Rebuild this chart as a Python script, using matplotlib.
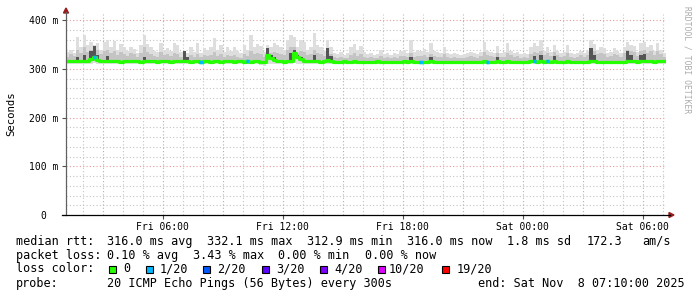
import numpy as np
import pandas as pd
import matplotlib
matplotlib.use("Agg")
import matplotlib.pyplot as plt
import matplotlib.dates as mdates
from matplotlib.patches import Rectangle, Polygon
from matplotlib.lines import Line2D

# ---------------- data ----------------
start = "2025-11-07 01:10"
n_steps = 180
step = "10min"

top = [335,340,333,366,345,369,350,355,349,353,
       340,355,359,345,357,340,352,345,338,345,
       342,333,350,369,352,345,338,335,353,340,
       343,338,353,350,335,338,333,345,335,353,
       333,343,340,345,363,340,350,335,345,338,
       345,338,332,350,340,369,345,352,348,335,
       349,345,353,350,345,340,360,369,365,345,
       359,355,340,345,373,350,345,338,360,345,
       333,330,334,328,332,345,352,340,348,335,
       330,332,328,330,340,330,333,328,332,330,
       338,340,332,359,335,340,338,342,335,353,
       338,335,332,345,333,330,332,330,328,330,
       332,335,333,330,335,355,338,335,333,347,
       332,335,353,338,333,335,330,333,330,345,
       353,348,359,338,345,335,350,338,332,335,
       349,333,330,332,338,333,338,359,352,340,
       345,343,332,335,343,338,333,345,355,350,
       348,335,353,355,345,350,338,353,340,333]

mid = [325,330,326,340,332,345,335,340,338,340,
       330,338,340,332,336,328,335,330,326,332,
       330,324,332,345,335,330,326,325,335,328,
       330,326,332,330,324,330,324,328,324,330,
       324,328,326,328,335,326,330,324,328,326,
       328,325,323,330,326,338,330,333,330,325,
       338,332,335,333,330,328,340,345,345,332,
       338,335,328,330,340,332,330,326,340,330,
       324,323,324,322,323,328,332,326,330,325,
       323,324,322,323,326,323,324,322,324,323,
       326,326,324,333,325,326,326,328,325,330,
       326,325,324,330,324,323,324,323,322,323,
       324,326,325,323,326,335,328,326,325,332,
       324,325,333,328,324,326,323,325,323,330,
       335,332,338,328,332,326,335,328,324,326,
       333,325,323,324,328,325,328,342,338,330,
       332,330,324,326,330,328,325,332,340,336,
       335,326,338,340,333,336,328,338,330,325]

# upper edge of the dark smoke core (0 = no dark core in that step)
dark = [0,0,0,325,0,328,0,338,347,328,
        0,0,326,0,0,0,0,0,0,0,
        0,0,0,325,0,0,0,0,0,0,
        0,0,0,0,0,336,324,0,0,0,
        0,0,0,0,0,0,0,0,0,0,
        0,0,0,0,0,0,0,0,0,0,
        343,328,324,0,0,0,0,333,340,328,
        324,0,0,0,328,0,0,0,343,326,
        0,0,0,0,0,0,0,0,0,0,
        0,0,0,0,0,0,0,0,0,0,
        0,0,0,324,0,0,0,0,0,325,
        0,0,0,0,0,0,0,0,0,0,
        0,0,0,0,0,0,0,0,0,325,
        0,0,0,0,0,0,0,0,0,0,
        326,0,328,0,0,0,326,0,0,0,
        0,0,0,0,0,0,0,343,328,0,
        0,0,0,0,0,0,0,0,338,328,
        0,0,328,330,0,0,0,0,0,0]

low = [311,311,310,311,311,310,311,311,312,311,
       311,310,311,311,311,310,311,311,311,310,
       311,311,310,311,311,311,310,311,311,311,
       310,311,311,311,310,311,311,311,310,311,
       311,311,310,311,311,311,310,311,311,311,
       310,311,311,311,310,311,311,310,308,307,
       310,311,311,310,311,311,310,311,312,311,
       311,310,311,311,311,310,311,311,310,311,
       311,310,311,311,310,311,311,311,310,311,
       311,310,311,311,310,311,311,311,310,311,
       311,310,311,311,311,310,311,311,310,311,
       311,311,310,311,311,310,311,311,311,310,
       311,311,310,311,311,311,310,311,311,311,
       310,311,311,311,310,311,311,310,311,311,
       311,310,311,311,311,310,311,311,310,311,
       311,311,310,311,311,310,311,311,311,310,
       311,311,310,311,311,311,310,311,311,311,
       310,311,311,311,310,311,311,310,311,311]

med = [316,316,317,316,317,316,316,320,324,319,
       317,316,316,317,316,316,315,316,316,317,
       316,316,315,316,317,316,316,315,316,316,
       316,315,316,316,316,317,316,315,316,316,
       315,316,316,315,316,316,315,316,316,316,
       315,316,316,315,316,315,316,316,315,315,
       328,322,318,316,316,315,316,317,332,325,
       320,317,316,316,316,316,315,316,318,316,
       315,315,315,316,315,315,316,315,315,315,
       315,315,315,316,315,315,315,314,315,315,
       315,316,315,316,315,315,315,315,315,316,
       315,315,314,315,315,315,315,315,314,315,
       315,315,315,315,315,316,315,315,315,316,
       315,315,316,315,315,315,315,315,315,316,
       316,315,316,315,316,315,316,315,315,315,
       316,315,315,315,315,315,315,317,316,315,
       315,315,315,315,315,315,315,315,317,316,
       316,315,316,316,316,316,315,316,316,316]

loss = [0]*n_steps
for k in (8, 40, 54, 106, 126, 140, 144):
    loss[k] = 1

loss_levels = [0, 1, 2, 3, 4, 10, 19]
loss_labels = ["0", "1/20", "2/20", "3/20", "4/20", "10/20", "19/20"]
loss_colors = ["#26ff00", "#00b8ff", "#0059ff", "#5e00ff", "#7e00ff", "#dd00ff", "#ff0000"]

y_ticks = [0, 100, 200, 300, 400]
y_labels = ["0  ", "100 m", "200 m", "300 m", "400 m"]
x_tick_times = ["2025-11-07 06:00", "2025-11-07 12:00", "2025-11-07 18:00",
                "2025-11-08 00:00", "2025-11-08 06:00"]
x_labels = ["Fri 06:00", "Fri 12:00", "Fri 18:00", "Sat 00:00", "Sat 06:00"]

rtt_items = ["median rtt:", "316.0 ms avg", "332.1 ms max", "312.9 ms min",
             "316.0 ms now", "1.8 ms sd", "172.3", "am/s"]
loss_items = ["packet loss:", "0.10 % avg", "3.43 % max", "0.00 % min", "0.00 % now"]
probe_items = ["probe:", "20 ICMP Echo Pings (56 Bytes) every 300s",
               "end: Sat Nov  8 07:10:00 2025"]

# ---------------- figure ----------------
W, H = 697, 297
fig = plt.figure(figsize=(W / 100, H / 100), dpi=100)
fig.patch.set_facecolor("white")

def fx(x):
    return x / W

def fy(y):
    return 1 - y / H

ax = fig.add_axes([fx(66), fy(215), 600 / W, (215 - 14) / H])
ax.set_facecolor("white")

t = mdates.date2num(pd.date_range(start, periods=n_steps + 1, freq=step).to_pydatetime())
t0 = t[:-1]
dt = t[1] - t[0]

topA, midA, darkA, lowA, medA = (np.asarray(a, dtype=float) for a in (top, mid, dark, low, med))

# smoke as per-step columns
ax.bar(t0, topA - lowA, bottom=lowA, width=dt, align="edge", color="#dedede", lw=0, zorder=2)
ax.bar(t0, midA - medA, bottom=medA, width=dt, align="edge", color="#c4c4c4", lw=0, zorder=3)
has_dark = darkA > 0
ax.bar(t0[has_dark], darkA[has_dark] - medA[has_dark], bottom=medA[has_dark], width=dt,
       align="edge", color="#555555", lw=0, zorder=4)

# median line coloured by loss
ax.step(t, np.append(medA, medA[-1]), where="post", color=loss_colors[0], lw=2.3,
        zorder=5, solid_capstyle="butt")
for i, l in enumerate(loss):
    if l > 0:
        c = loss_colors[loss_levels.index(l)]
        ax.hlines(med[i], t[i], t[i + 1], color=c, lw=2.5, zorder=6)

ax.set_xlim(t[0], t[-1])
ax.set_ylim(0, 413)

# grid
for v in np.arange(20, 413, 20):
    col = "#e89a9a" if v % 100 == 0 else "#c4c4c4"
    ax.axhline(v, color=col, lw=0.8, ls=(0, (1, 2)), zorder=1)
hours = pd.date_range("2025-11-07 02:00", "2025-11-08 07:00", freq="1h")
for h in hours:
    col = "#e89a9a" if h.hour % 3 == 0 else "#c4c4c4"
    ax.axvline(mdates.date2num(h.to_pydatetime()), color=col, lw=0.8, ls=(0, (1, 2)), zorder=1)

for s in ax.spines.values():
    s.set_visible(False)

mono = "DejaVu Sans Mono"
ax.set_yticks(y_ticks)
ax.set_yticklabels(y_labels, family=mono, fontsize=7)
xt = mdates.date2num(pd.to_datetime(x_tick_times).to_pydatetime())
ax.set_xticks(xt)
ax.set_xticklabels(x_labels, family=mono, fontsize=7)
ax.tick_params(axis="y", length=3, width=0.8, pad=2.5, color="#505050")
ax.tick_params(axis="x", length=3, width=0.8, pad=2.0, color="#505050")

# axes lines and arrows
fig.add_artist(Line2D([fx(66), fx(66)], [fy(215), fy(12)], color="#606060", lw=0.9))
fig.add_artist(Line2D([fx(62), fx(670)], [fy(215), fy(215)], color="#000000", lw=0.9))
arrow_c = "#9a1c1c"
fig.add_artist(Polygon([[fx(63.5), fy(13)], [fx(68.5), fy(13)], [fx(66), fy(8)]],
                       closed=True, color=arrow_c, transform=fig.transFigure))
fig.add_artist(Polygon([[fx(669), fy(212.5)], [fx(669), fy(217.5)], [fx(674), fy(215)]],
                       closed=True, color=arrow_c, transform=fig.transFigure))

# labels
fig.text(fx(11), fy(114), "Seconds", rotation=90, family=mono, fontsize=7.7,
         ha="center", va="center")
fig.text(fx(687), fy(60), "RRDTOOL / TOBI OETIKER", rotation=-90, family=mono,
         fontsize=5.8, color="#aaaaaa", ha="center", va="center")

# legend
fs = 8.5
rtt_x = [16, 107.3, 207.3, 306.7, 407.3, 506.7, 586.7, 642]
for x, s in zip(rtt_x, rtt_items):
    fig.text(fx(x), fy(241.5), s, family=mono, fontsize=fs, ha="left", va="center")
loss_x = [16, 107.3, 193.3, 278.3, 365]
for x, s in zip(loss_x, loss_items):
    fig.text(fx(x), fy(255.3), s, family=mono, fontsize=fs, ha="left", va="center")
fig.text(fx(16), fy(269), "loss color:", family=mono, fontsize=fs, ha="left", va="center")
box_x = [109, 145.7, 203, 261.7, 320, 377.7, 442]
lab_x = [123, 160, 217, 276, 334, 389, 456.7]
for bx, lx, c, s in zip(box_x, lab_x, loss_colors, loss_labels):
    fig.add_artist(Rectangle((fx(bx), fy(272.5)), 7 / W, 7 / H, facecolor=c,
                             edgecolor="black", lw=0.8, transform=fig.transFigure))
    fig.text(fx(lx), fy(269), s, family=mono, fontsize=fs, ha="left", va="center")
probe_x = [16, 107.3, 478.3]
for x, s in zip(probe_x, probe_items):
    fig.text(fx(x), fy(283.3), s, family=mono, fontsize=fs, ha="left", va="center")

fig.savefig("out.png", dpi=100, facecolor="white")
